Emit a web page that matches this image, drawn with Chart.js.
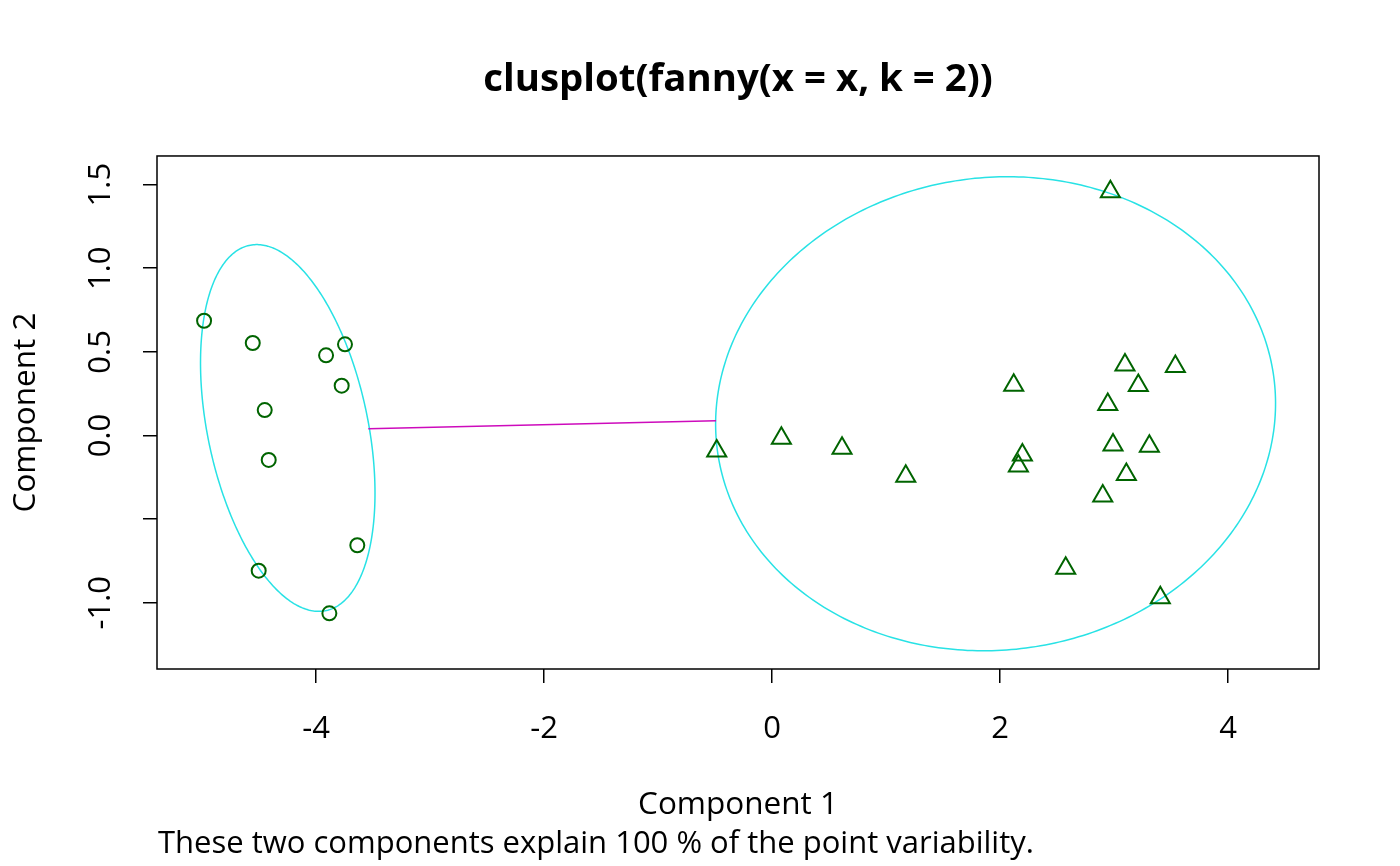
<!DOCTYPE html>
<html>
<head>
<meta charset="utf-8">
<script src="https://cdn.jsdelivr.net/npm/chart.js@4"></script>
<style>
  html, body { margin: 0; padding: 0; background: #fff; }
  canvas { display: block; }
</style>
</head>
<body>
<canvas id="grafica" width="1400" height="866"></canvas>
<script>
// cluster 1 (circles)
const clus1X = [-4.982, -4.555, -3.746, -3.912, -3.775, -4.450, -4.415, -3.638, -4.503, -3.883];
const clus1Y = [0.686, 0.553, 0.545, 0.479, 0.298, 0.152, -0.146, -0.656, -0.808, -1.063];
// cluster 2 (triangles)
const clus2X = [-0.485, 0.082, 0.614, 1.173, 2.120, 2.196, 2.161, 2.576, 2.968,
                3.096, 3.538, 3.213, 2.945, 2.991, 3.310, 3.108, 2.901, 3.406];
const clus2Y = [-0.093, -0.017, -0.077, -0.243, 0.301, -0.117, -0.183, -0.794, 1.457,
                0.421, 0.413, 0.299, 0.186, -0.057, -0.065, -0.233, -0.362, -0.970];
// segment joining the two cluster ellipses
const linkX = [-3.541, -0.491];
const linkY = [0.041, 0.088];
// cluster ellipses: centre, semi-axes, rotation (radians)
const ellCX = [-4.248, 1.961];
const ellCY = [0.045, 0.130];
const ellA = [1.150, 2.457];
const ellB = [0.682, 1.415];
const ellAngle = [-1.1864, 0.0376];

const xTicks = [-4, -2, 0, 2, 4];
const yTicks = [1.5, 1.0, 0.5, 0.0, -0.5, -1.0];
const yTickLabels = ["1.5", "1.0", "0.5", "0.0", "", "-1.0"];

const FONT = "'Open Sans', 'Noto Sans', sans-serif";
Chart.defaults.font.family = FONT;
Chart.defaults.color = "#000";

const ellipses = {
    id: "ellipses",
    beforeDatasetsDraw(chart) {
        const {ctx, chartArea, scales: {x, y}} = chart;
        ctx.save();
        ctx.beginPath();
        ctx.rect(chartArea.left, chartArea.top, chartArea.right - chartArea.left, chartArea.bottom - chartArea.top);
        ctx.clip();
        ctx.strokeStyle = "#28E2E5";
        ctx.lineWidth = 1.5;
        for (let k = 0; k < ellCX.length; k++) {
            const c = Math.cos(ellAngle[k]), s = Math.sin(ellAngle[k]);
            ctx.beginPath();
            for (let i = 0; i <= 360; i++) {
                const t = i * Math.PI / 180;
                const u = ellA[k] * Math.cos(t), w = ellB[k] * Math.sin(t);
                const px = x.getPixelForValue(ellCX[k] + u * c - w * s);
                const py = y.getPixelForValue(ellCY[k] + u * s + w * c);
                if (i) ctx.lineTo(px, py); else ctx.moveTo(px, py);
            }
            ctx.closePath();
            ctx.stroke();
        }
        ctx.restore();
    }
};

// box round the plot + the sub title under the x label
const frame = {
    id: "frame",
    afterDraw(chart) {
        const {ctx, chartArea} = chart;
        ctx.save();
        ctx.strokeStyle = "#000";
        ctx.lineWidth = 1.5;
        ctx.strokeRect(chartArea.left, chartArea.top, chartArea.right - chartArea.left, chartArea.bottom - chartArea.top);
        ctx.fillStyle = "#000";
        ctx.font = "31px " + FONT;
        ctx.textBaseline = "middle";
        ctx.textAlign = "left";
        ctx.fillText("These two components explain 100 % of the point variability.", chartArea.left + 1, 844);
        ctx.restore();
    }
};

const ctx = document.getElementById("grafica").getContext("2d");
const grafica = new Chart(ctx, {
    type: "scatter",
    data: {
        datasets: [{
            label: "link",
            data: linkX.map((v, i) => ({x: v, y: linkY[i]})),
            showLine: true,
            borderColor: "#CD0BBC",
            borderWidth: 1.5,
            pointRadius: 0
        }, {
            label: "cluster 1",
            data: clus1X.map((v, i) => ({x: v, y: clus1Y[i]})),
            pointStyle: "circle",
            pointRadius: 7,
            borderWidth: 2,
            borderColor: "#006400",
            backgroundColor: "rgba(0,0,0,0)"
        }, {
            label: "cluster 2",
            data: clus2X.map((v, i) => ({x: v, y: clus2Y[i]})),
            pointStyle: "triangle",
            pointRadius: 11,
            borderWidth: 2,
            borderColor: "#006400",
            backgroundColor: "rgba(0,0,0,0)"
        }]
    },
    options: {
        responsive: false,
        animation: false,
        devicePixelRatio: 1,
        events: [],
        layout: { padding: { right: 81 } },
        plugins: {
            legend: { display: false },
            tooltip: { enabled: false },
            title: {
                display: true,
                fullSize: false,
                text: "clusplot(fanny(x = x, k = 2))",
                font: { size: 38.4, weight: "bold" },
                color: "#000",
                padding: { top: 57, bottom: 52.9 }
            }
        },
        scales: {
            x: {
                type: "linear",
                min: -5.395,
                max: 4.798,
                afterBuildTicks: s => { s.ticks = xTicks.map(v => ({value: v})); },
                afterFit: s => { s.height = 197; },
                ticks: {
                    font: { size: 31 },
                    color: "#000",
                    padding: 28,
                    autoSkip: false,
                    maxRotation: 0,
                    callback: v => String(v)
                },
                grid: { drawOnChartArea: false, tickLength: 14, color: "#000", lineWidth: 1.5 },
                border: { display: false },
                title: {
                    display: true,
                    text: "Component 1",
                    font: { size: 31.5 },
                    color: "#000",
                    padding: { top: 0, bottom: 42 }
                }
            },
            y: {
                type: "linear",
                min: -1.396,
                max: 1.671,
                afterBuildTicks: s => { s.ticks = yTicks.map(v => ({value: v})); },
                afterFit: s => { s.width = 157; },
                ticks: {
                    font: { size: 31 },
                    color: "#000",
                    padding: 15,
                    autoSkip: false,
                    minRotation: 90,
                    maxRotation: 90,
                    crossAlign: "center",
                    callback: (v, i) => yTickLabels[i]
                },
                grid: { drawOnChartArea: false, tickLength: 14, color: "#000", lineWidth: 1.5 },
                border: { display: false },
                title: {
                    display: true,
                    text: "Component 2",
                    font: { size: 31.5 },
                    color: "#000",
                    padding: { top: 7.5, bottom: 0 }
                }
            }
        }
    },
    plugins: [ellipses, frame]
});
</script>
</body>
</html>
